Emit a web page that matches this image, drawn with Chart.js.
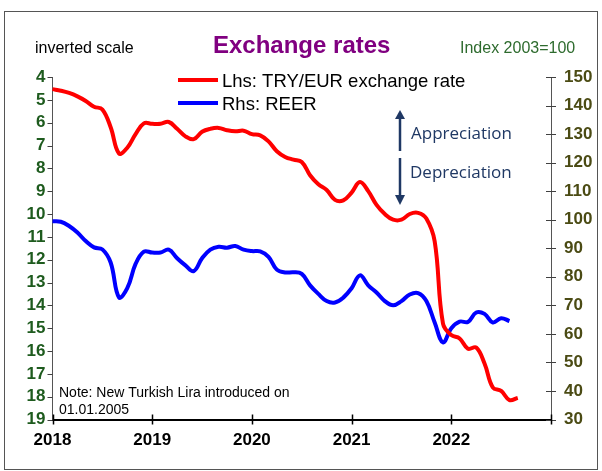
<!DOCTYPE html>
<html>
<head>
<meta charset="utf-8">
<script src="https://cdn.jsdelivr.net/npm/chart.js@4.4.0/dist/chart.umd.min.js"></script>
<style>
  body { margin: 0; background: #fff; }
  canvas { display: block; }
</style>
</head>
<body>
<canvas id="myChart" width="602" height="471"></canvas>
<script>
// monthly values, Jan 2018 .. Sep 2022
const years = [2018, 2019, 2020, 2021, 2022]
const tryEur = [4.53, 4.6, 4.7, 4.85, 5.05, 5.3, 5.42, 6.2, 7.35, 7.1, 6.5, 6.03,
  6.05, 6.05, 5.97, 6.27, 6.6, 6.72, 6.4, 6.27, 6.23, 6.33, 6.38, 6.35,
  6.5, 6.56, 6.82, 7.25, 7.5, 7.62, 7.72, 8.3, 8.7, 8.95, 9.38, 9.4,
  9.06, 8.6, 9.0, 9.6, 10.0, 10.25, 10.25, 10.0, 9.95, 10.2, 11.2, 14.8,
  15.3, 15.45, 15.9, 15.85, 16.55, 17.6, 17.75, 18.15, 18.05]
const reer = [99.5, 99.3, 97.8, 95.5, 92.5, 90.3, 89.6, 85, 72.8, 76, 84.5, 88.8,
  88.5, 88.5, 89.5, 86.5, 84, 82, 86.5, 89.5, 90.5, 90.2, 90.8, 89.5,
  89, 88.9, 87, 82.5, 81.5, 81.6, 81, 77, 74, 71.5, 71, 72.7,
  76, 80.5, 77, 74.5, 71.5, 70, 71.5, 73.8, 74.3, 71.5, 64, 57,
  62, 64.3, 64.2, 67.5, 67, 64, 65.5, 64.5, null]

const labels = []
years.forEach(y => {
  for (let m = 1; m <= 12; m++) labels.push(y + '-' + String(m).padStart(2, '0'))
})
labels.push('2023-01')

const labelFont = { family: 'Liberation Sans, Arial', size: 17, weight: 'bold' }

/* ticks crossing the axes + texts */
const decor = {
  id: 'decor',
  afterDraw(chart) {
    const ctx = chart.ctx
    const { x, y, y1 } = chart.scales
    ctx.save()
    ctx.strokeStyle = '#404040'
    ctx.lineWidth = 1
    ctx.beginPath()
    y.ticks.forEach((t, i) => {
      const p = Math.round(y.getPixelForTick(i)) + 0.5
      ctx.moveTo(y.right - 5, p); ctx.lineTo(y.right, p)
    })
    y1.ticks.forEach((t, i) => {
      const p = Math.round(y1.getPixelForTick(i)) + 0.5
      ctx.moveTo(y1.left - 5, p); ctx.lineTo(y1.left + 5, p)
    })
    ctx.stroke()
    ctx.strokeStyle = '#000'
    ctx.lineWidth = 1.5
    ctx.beginPath()
    labels.forEach((l, i) => {
      if (!l.endsWith('-01')) return
      const p = Math.round(x.getPixelForValue(i)) + 0.5
      ctx.moveTo(p, x.top - 5); ctx.lineTo(p, x.top + 5)
    })
    ctx.stroke()

    // frame
    ctx.strokeStyle = '#555'
    ctx.lineWidth = 1
    ctx.strokeRect(4.5, 11.5, 593, 458)

    // titles
    ctx.textBaseline = 'alphabetic'
    ctx.fillStyle = '#800080'
    ctx.font = 'bold 24px "Liberation Sans", Arial'
    ctx.fillText('Exchange rates', 213, 53)
    ctx.fillStyle = '#000'
    ctx.font = '16px "Liberation Sans", Arial'
    ctx.fillText('inverted scale', 35, 53)
    ctx.fillStyle = '#2E6B2E'
    ctx.fillText('Index 2003=100', 460, 53)

    // legend
    ctx.lineWidth = 4
    ctx.strokeStyle = '#FF0000'
    ctx.beginPath(); ctx.moveTo(178, 80); ctx.lineTo(218, 80); ctx.stroke()
    ctx.strokeStyle = '#0000FF'
    ctx.beginPath(); ctx.moveTo(178, 103); ctx.lineTo(218, 103); ctx.stroke()
    ctx.fillStyle = '#000'
    ctx.font = '18.5px "Liberation Sans", Arial'
    ctx.fillText('Lhs: TRY/EUR exchange rate', 222, 87)
    ctx.fillText('Rhs: REER', 222, 110)

    // arrows
    ctx.strokeStyle = '#1F3864'
    ctx.fillStyle = '#1F3864'
    ctx.lineWidth = 2.5
    ctx.beginPath(); ctx.moveTo(400, 151); ctx.lineTo(400, 117); ctx.stroke()
    ctx.beginPath(); ctx.moveTo(395, 119); ctx.lineTo(400, 110); ctx.lineTo(405, 119); ctx.fill()
    ctx.beginPath(); ctx.moveTo(400, 158); ctx.lineTo(400, 197); ctx.stroke()
    ctx.beginPath(); ctx.moveTo(395, 195); ctx.lineTo(400, 205); ctx.lineTo(405, 195); ctx.fill()
    ctx.font = '17px "Open Sans"'
    ctx.fillText('Appreciation', 411, 139)
    ctx.fillText('Depreciation', 410, 178)

    // note
    ctx.fillStyle = '#000'
    ctx.font = '14px "Liberation Sans", Arial'
    ctx.fillText('Note: New Turkish Lira introduced on', 59, 397)
    ctx.fillText('01.01.2005', 59, 414)
    ctx.restore()
  }
}

new Chart(document.getElementById('myChart'), {
  type: 'line',
  data: {
    labels,
    datasets: [
      { label: 'Lhs: TRY/EUR exchange rate', data: tryEur, yAxisID: 'y',
        borderColor: '#FF0000', borderWidth: 4, pointRadius: 0, tension: 0.4 },
      { label: 'Rhs: REER', data: reer, yAxisID: 'y1',
        borderColor: '#0000FF', borderWidth: 4, pointRadius: 0, tension: 0.4 }
    ]
  },
  options: {
    responsive: false,
    animation: false,
    layout: { padding: { top: 77, left: 0, right: 0, bottom: 0 } },
    plugins: { legend: { display: false }, tooltip: { enabled: false } },
    scales: {
      x: {
        offset: false,
        grid: { display: false, drawTicks: false },
        border: { color: '#000', width: 2 },
        ticks: {
          autoSkip: false, maxRotation: 0, padding: 11, color: '#000', font: labelFont,
          callback: function (v) {
            const l = labels[v]
            return l.endsWith('-01') && l !== '2023-01' ? l.slice(0, 4) : ''
          }
        },
        afterFit: s => { s.height = 51.5 }
      },
      y: {
        position: 'left', reverse: true, min: 4, max: 19,
        grid: { display: false, drawTicks: false },
        border: { color: '#555', width: 1 },
        ticks: { stepSize: 1, autoSkip: false, padding: 7, color: '#1E5B1E', font: labelFont },
        afterFit: s => { s.width = 52.5 }
      },
      y1: {
        position: 'right', min: 30, max: 150,
        grid: { display: false, drawTicks: false },
        border: { color: '#555', width: 1 },
        ticks: { stepSize: 10, autoSkip: false, padding: 13, color: '#4B4B14', font: labelFont },
        afterFit: s => { s.width = 51 }
      }
    }
  },
  plugins: [decor]
})
</script>
</body>
</html>
